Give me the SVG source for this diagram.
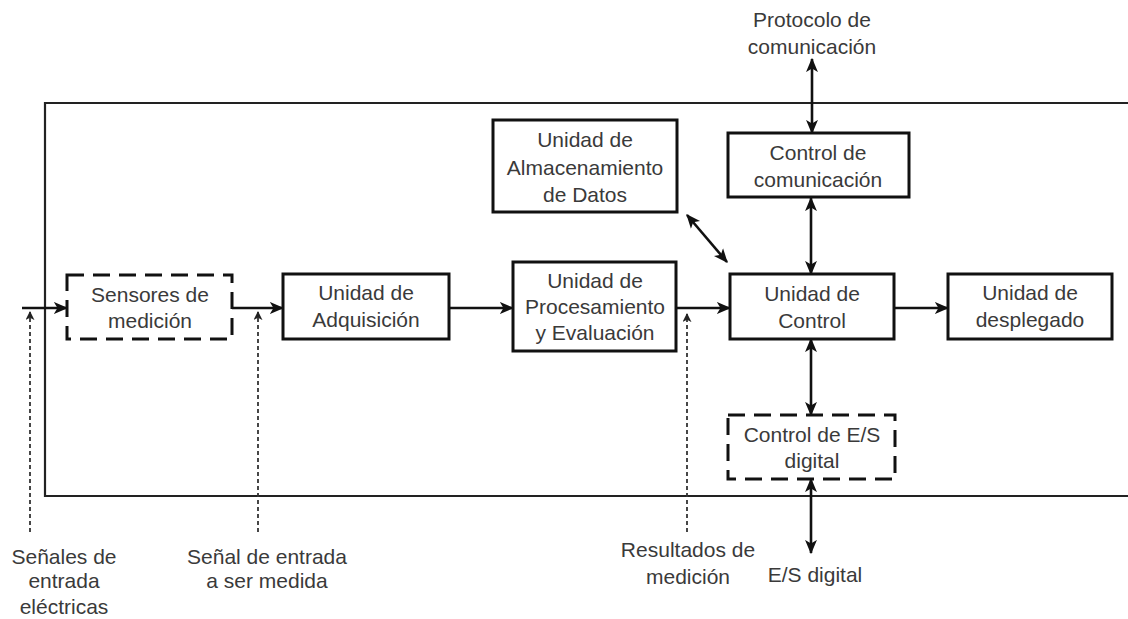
<svg xmlns="http://www.w3.org/2000/svg" width="1128" height="619" viewBox="0 0 1128 619">
<defs>
<marker id="ah" viewBox="0 0 12 10" refX="11" refY="5" markerWidth="5.5" markerHeight="5.5" markerUnits="strokeWidth" orient="auto-start-reverse">
<path d="M0,0 L12,5 L0,10 L3,5 z" fill="#111"/>
</marker>
<marker id="ahs" viewBox="0 0 10 10" refX="9" refY="5" markerWidth="5" markerHeight="5" markerUnits="strokeWidth" orient="auto-start-reverse">
<path d="M0,0 L10,5 L0,10 L2.5,5 z" fill="#222"/>
</marker>
<style>
.box{fill:#fff;stroke:#111;stroke-width:3}
.dbox{fill:#fff;stroke:#111;stroke-width:3;stroke-dasharray:17 9}
.frame{fill:none;stroke:#222;stroke-width:2.2}
.t{font-family:"Liberation Sans",Arial,sans-serif;font-size:21px;fill:#3a3a3a;text-anchor:middle}
.c{fill:none;stroke:#111;stroke-width:2.6}
.one{marker-end:url(#ah)}
.two{marker-start:url(#ah);marker-end:url(#ah)}
.dot{fill:none;stroke:#333;stroke-width:1.8;stroke-dasharray:4 3;marker-end:url(#ahs)}
</style>
</defs>
<rect width="1128" height="619" fill="#fff"/>
<g id="frame"><path class="frame" d="M1132,103 H45 V496 H1132"/></g>

<g id="connectors">
<line class="c one" x1="22" y1="308" x2="67" y2="308"/>
<line class="c one" x1="232" y1="308" x2="283" y2="308"/>
<line class="c one" x1="449" y1="308" x2="513" y2="308"/>
<line class="c one" x1="676" y1="308" x2="730" y2="308"/>
<line class="c one" x1="894" y1="308" x2="948" y2="308"/>
<line class="c two" x1="812" y1="59" x2="812" y2="133"/>
<line class="c two" x1="811" y1="198" x2="811" y2="274"/>
<line class="c two" x1="811" y1="339" x2="811" y2="415"/>
<line class="c two" x1="811" y1="479" x2="811" y2="553"/>
<line class="c two" x1="687" y1="215" x2="727" y2="262"/>
<line class="dot" x1="30" y1="532" x2="30" y2="312"/>
<line class="dot" x1="258" y1="532" x2="258" y2="312"/>
<line class="dot" x1="687" y1="532" x2="687" y2="314"/>
</g>

<g id="sensores"><rect class="dbox" x="67" y="275" width="165" height="64"/>
<text class="t" x="150" y="302">Sensores de</text><text class="t" x="150" y="328">medición</text></g>

<g id="adquisicion"><rect class="box" x="283" y="274" width="166" height="65"/>
<text class="t" x="366" y="300">Unidad de</text><text class="t" x="366" y="327">Adquisición</text></g>

<g id="procesamiento"><rect class="box" x="513" y="262" width="163" height="89"/>
<text class="t" x="595" y="288">Unidad de</text><text class="t" x="595" y="314">Procesamiento</text><text class="t" x="595" y="340">y Evaluación</text></g>

<g id="almacenamiento"><rect class="box" x="493" y="120" width="184" height="92"/>
<text class="t" x="585" y="147">Unidad de</text><text class="t" x="585" y="175">Almacenamiento</text><text class="t" x="585" y="202">de Datos</text></g>

<g id="control"><rect class="box" x="730" y="274" width="164" height="65"/>
<text class="t" x="812" y="301">Unidad de</text><text class="t" x="812" y="328">Control</text></g>

<g id="comunicacion"><rect class="box" x="728" y="133" width="181" height="64"/>
<text class="t" x="818" y="160">Control de</text><text class="t" x="818" y="187">comunicación</text></g>

<g id="es"><rect class="dbox" x="728" y="415" width="167" height="64"/>
<text class="t" x="812" y="442">Control de E/S</text><text class="t" x="812" y="468">digital</text></g>

<g id="desplegado"><rect class="box" x="948" y="274" width="164" height="65"/>
<text class="t" x="1030" y="300">Unidad de</text><text class="t" x="1030" y="327">desplegado</text></g>

<g id="labels">
<text class="t" x="812" y="27">Protocolo de</text><text class="t" x="812" y="54">comunicación</text>
<text class="t" x="815" y="582">E/S digital</text>
<text class="t" x="64" y="564">Señales de</text><text class="t" x="64" y="588">entrada</text><text class="t" x="64" y="614">eléctricas</text>
<text class="t" x="267" y="564">Señal de entrada</text><text class="t" x="267" y="588">a ser medida</text>
<text class="t" x="688" y="557">Resultados de</text><text class="t" x="688" y="584">medición</text>
</g>
</svg>
